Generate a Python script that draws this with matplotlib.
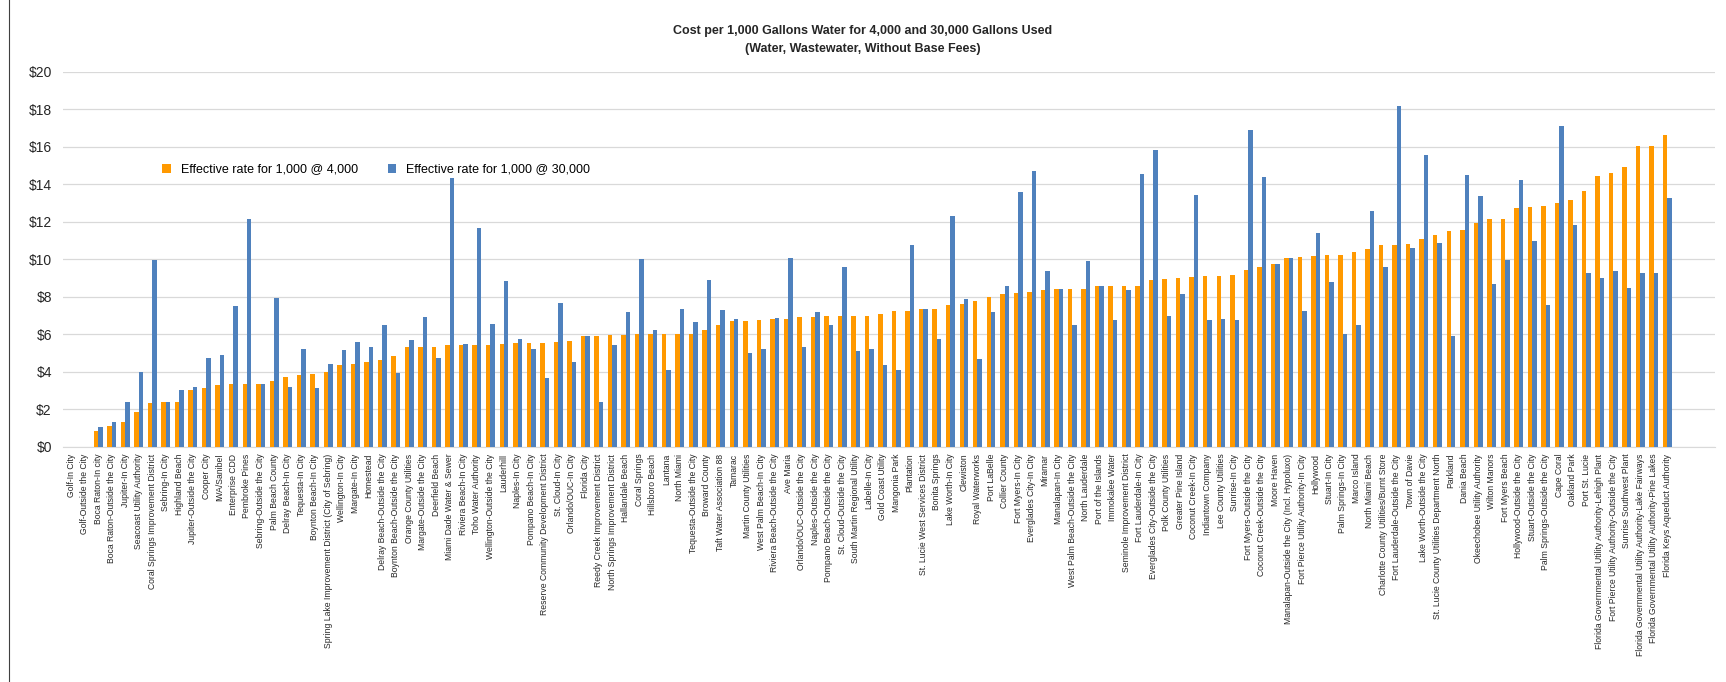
import numpy as np
import matplotlib
matplotlib.use("Agg")
import matplotlib.pyplot as plt
from matplotlib.lines import Line2D

plt.rcParams["font.family"] = ["Liberation Sans", "DejaVu Sans"]

utilities = [
    "Golf-In City", "Golf-Outside the City", "Boca Raton-In city", "Boca Raton-Outside the City",
    "Jupiter-In City", "Seacoast Utility Authority", "Coral Springs Improvement District",
    "Sebring-In City", "Highland Beach", "Jupiter-Outside the City",
    "Cooper City", "IWA/Sanibel", "Enterprise CDD", "Pembroke Pines", "Sebring-Outside the City",
    "Palm Beach County", "Delray Beach-In City", "Tequesta-In City", "Boynton Beach-In City",
    "Spring Lake Improvement District (City of Sebring)", "Wellington-In City",
    "Margate-In City", "Homestead", "Delray Beach-Outside the City", "Boynton Beach-Outside the City",
    "Orange County Utilities", "Margate-Outside the City", "Deerfield Beach", "Miami Dade Water & Sewer",
    "Riviera Beach-In City", "Toho Water Authority", "Wellington-Outside the City",
    "Lauderhill", "Naples-In City", "Pompano Beach-In City", "Reserve Community Development District",
    "St. Cloud-In City", "Orlando/OUC-In City", "Florida City", "Reedy Creek Improvement District",
    "North Springs Improvement District", "Hallandale Beach", "Coral Springs",
    "Hillsboro Beach", "Lantana", "North Miami", "Tequesta-Outside the City", "Broward County",
    "Taft Water Association 88", "Tamarac", "Martin County Utilities", "West Palm Beach-In City",
    "Riviera Beach-Outside the City",
    "Ave Maria", "Orlando/OUC-Outside the City", "Naples-Outside the City",
    "Pompano Beach-Outside the City", "St. Cloud-Outside the City", "South Martin Regional Utility",
    "Labelle-In City", "Gold Coast Utility", "Mangonia Park", "Plantation",
    "St. Lucie West Services District",
    "Bonita Springs", "Lake Worth-In City", "Clewiston", "Royal Waterworks", "Port LaBelle",
    "Collier County", "Fort Myers-In City", "Everglades City-In City", "Miramar", "Manalapan-In City",
    "West Palm Beach-Outside the City",
    "North Lauderdale", "Port of the Islands", "Immokalee Water", "Seminole Improvement District",
    "Fort Lauderdale-In City", "Everglades City-Outside the City", "Polk County Utilities",
    "Greater Pine Island", "Coconut Creek-In City", "Indiantown Company", "Lee County Utilities",
    "Sunrise-In City", "Fort Myers-Outside the City", "Coconut Creek-Outside the City", "Moore Haven",
    "Manalapan-Outside the City (Incl. Hypoluxo)", "Fort Pierce Utility Authority-In City",
    "Hollywood", "Stuart-In City", "Palm Springs-In City", "Marco Island",
    "North Miami Beach", "Charlotte County Utilities/Burnt Store", "Fort Lauderdale-Outside the City",
    "Town of Davie", "Lake Worth-Outside the City", "St. Lucie County Utilities Department North",
    "Parkland", "Dania Beach", "Okeechobee Utility Authority", "Wilton Manors", "Fort Myers Beach",
    "Hollywood-Outside the City", "Stuart-Outside the City", "Palm Springs-Outside the City",
    "Cape Coral", "Oakland Park", "Port St. Lucie",
    "Florida Governmental Utility Authority-Lehigh Plant",
    "Fort Pierce Utility Authority-Outside the City", "Sunrise Southwest Plant",
    "Florida Governmental Utility Authority-Lake Fairways",
    "Florida Governmental Utility Authority-Pine Lakes", "Florida Keys Aqueduct Authority",
]

rate_4000 = [
    0, 0, 0.86, 1.08, 1.31, 1.84, 2.33, 2.39, 2.39, 3.05,
    3.15, 3.27, 3.33, 3.37, 3.37, 3.48, 3.70, 3.84, 3.89, 3.99, 4.36,
    4.42, 4.54, 4.62, 4.85, 5.32, 5.34, 5.34, 5.40, 5.44, 5.44, 5.44,
    5.48, 5.54, 5.54, 5.54, 5.58, 5.66, 5.89, 5.89, 5.93, 5.95, 5.99,
    5.99, 5.99, 6.01, 6.03, 6.22, 6.48, 6.71, 6.71, 6.73, 6.79,
    6.81, 6.91, 6.93, 6.95, 6.95, 6.95, 6.95, 7.06, 7.24, 7.24, 7.32,
    7.32, 7.53, 7.63, 7.75, 8.00, 8.12, 8.20, 8.24, 8.36, 8.40, 8.40,
    8.40, 8.57, 8.57, 8.57, 8.57, 8.90, 8.92, 9.00, 9.04, 9.10, 9.10,
    9.16, 9.41, 9.57, 9.75, 10.08, 10.12, 10.16, 10.22, 10.22, 10.37,
    10.55, 10.74, 10.76, 10.82, 11.06, 11.31, 11.51, 11.55, 11.94, 12.15, 12.15,
    12.72, 12.80, 12.82, 12.97, 13.13, 13.66, 14.42, 14.58, 14.91, 16.03, 16.03, 16.63,
]

rate_30000 = [
    0, 0, 1.04, 1.33, 2.41, 3.99, 9.96, 2.39, 3.00, 3.17,
    4.72, 4.91, 7.48, 12.15, 3.37, 7.93, 3.19, 5.19, 3.15, 4.42, 5.15,
    5.60, 5.32, 6.50, 3.93, 5.68, 6.93, 4.74, 14.31, 5.50, 11.68, 6.56,
    8.83, 5.75, 5.19, 3.66, 7.67, 4.54, 5.89, 2.39, 5.44, 7.16, 10.00,
    6.22, 4.11, 7.32, 6.65, 8.90, 7.30, 6.79, 4.97, 5.19, 6.87,
    10.08, 5.32, 7.20, 6.48, 9.57, 5.11, 5.19, 4.36, 4.11, 10.74, 7.32,
    5.75, 12.29, 7.87, 4.68, 7.16, 8.55, 13.58, 14.68, 9.35, 8.40, 6.50,
    9.92, 8.57, 6.73, 8.34, 14.52, 15.83, 6.95, 8.12, 13.44, 6.77, 6.81,
    6.77, 16.87, 14.38, 9.75, 10.08, 7.24, 11.39, 8.79, 6.01, 6.50,
    12.56, 9.59, 18.16, 10.61, 15.58, 10.86, 5.89, 14.48, 13.35, 8.67, 9.96,
    14.23, 10.98, 7.53, 17.09, 11.80, 9.24, 8.98, 9.35, 8.47, 9.28, 9.28, 13.27,
]

orange = "#FF9900"
blue = "#4F81BD"

fig = plt.figure(figsize=(17.26, 6.82), dpi=100)
ax = fig.add_axes([0.0365, 0.345, 0.957, 0.55])

x = np.arange(len(utilities))
w = 0.33
ax.bar(x - w / 2, rate_4000, width=w, color=orange, label="Effective rate for 1,000 @ 4,000", zorder=3)
ax.bar(x + w / 2, rate_30000, width=w, color=blue, label="Effective rate for 1,000 @ 30,000", zorder=3)

ax.set_xlim(-0.6, 121.5)
ax.set_ylim(0, 20)
ax.set_yticks(range(0, 21, 2))
ax.set_yticklabels([f"${v}" for v in range(0, 21, 2)], fontsize=10, color="#262626")
ax.yaxis.grid(True, color="#D9D9D9", linewidth=0.9, zorder=0)
ax.set_xticks(x)
ax.set_xticklabels(utilities, rotation=90, fontsize=6.2, color="#262626")
ax.tick_params(axis="both", length=0)
ax.tick_params(axis="x", pad=5)
ax.tick_params(axis="y", pad=8)
for s in ["top", "right", "left"]:
    ax.spines[s].set_visible(False)
ax.spines["bottom"].set_color("#D9D9D9")

ax.legend(loc="upper left", bbox_to_anchor=(0.053, 0.785), ncol=2, frameon=False,
          fontsize=9, handlelength=0.7, handleheight=0.7, columnspacing=2.4, handletextpad=0.8)

fig.text(0.5, 0.955, "Cost per 1,000 Gallons Water for 4,000 and 30,000 Gallons Used",
         ha="center", va="center", fontsize=9, fontweight="bold", color="#262626")
fig.text(0.5, 0.928, "(Water, Wastewater, Without Base Fees)",
         ha="center", va="center", fontsize=9, fontweight="bold", color="#262626")

fig.add_artist(Line2D([0.005, 0.005], [0.0, 1.0], color="#404040", linewidth=0.8))

fig.savefig("out.png", dpi=100)
